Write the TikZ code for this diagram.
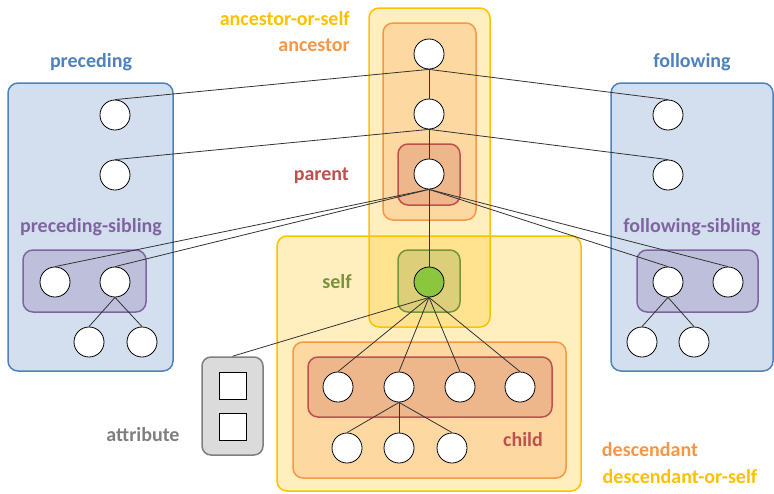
\documentclass[tikz,border=0pt]{standalone}
\usepackage{fontspec}
\setmainfont{Carlito}
\usepackage{tikz}

\definecolor{axyellow}{HTML}{FFC000}
\definecolor{axorange}{HTML}{F79646}
\definecolor{axred}{HTML}{C0504D}
\definecolor{axgreen}{HTML}{77933C}
\definecolor{axself}{HTML}{8CC63F}
\definecolor{axblue}{HTML}{4F81BD}
\definecolor{axpurple}{HTML}{8064A2}
\definecolor{axgray}{HTML}{7F7F7F}

\tikzset{
	zone/.style={draw=#1, line width=1.5pt, fill=#1, fill opacity=0.25, draw opacity=1, rounded corners=10pt},
	nd/.style={circle, draw=black, fill=white, minimum size=30pt, inner sep=0pt, line width=0.8pt},
	sq/.style={draw=black, fill=white, minimum size=27pt, inner sep=0pt, line width=0.8pt},
	lbl/.style={font=\fontsize{20}{24}\selectfont\bfseries, text=#1, inner sep=0pt},
	link/.style={draw=black!80, line width=0.8pt},
}

\begin{document}
\begin{tikzpicture}[x=1pt,y=-1pt]
	\useasboundingbox (0,0) rectangle (774,493);
	%zones
	\draw[zone=axblue]   (8,83) rectangle (173,371);		%preceding
	\draw[zone=axpurple] (23,250) rectangle (146,312);
	\draw[zone=axblue]   (611,83) rectangle (773,371);		%following
	\draw[zone=axpurple] (637,250) rectangle (758,312);
	\draw[zone=axyellow] (277,236) rectangle (581,491);	%descendant-or-self
	\draw[zone=axorange] (293,342) rectangle (566,478);	%descendant
	\draw[zone=axred]    (308,357) rectangle (552,417);	%child
	\draw[zone=axyellow] (369,8) rectangle (490,327);		%ancestor-or-self
	\draw[zone=axorange] (383,23) rectangle (476,220);		%ancestor
	\draw[zone=axred]    (398,144) rectangle (460,205);	%parent
	\draw[zone=axgreen]  (398,250) rectangle (460,312);	%self
	\node[draw=axgray, fill=gray!28, rounded corners=9pt, line width=1.5pt,
		minimum width=61pt, minimum height=98pt] (attr) at (232.5,406) {};

	%labels
	\node[lbl=axyellow, anchor=east] (tanself) at (350,19) {ancestor-or-self};
	\node[lbl=axorange, anchor=east] (tanc) at (350,45) {ancestor};
	\node[lbl=axred, anchor=east] (tpar) at (349,176) {parent};
	\node[lbl=axgreen] (tself) at (337,282) {self};
	\node[lbl=axblue] (tpre) at (91,62) {preceding};
	\node[lbl=axpurple] (tpsib) at (91,227) {preceding-sibling};
	\node[lbl=axblue] (tfol) at (692,62) {following};
	\node[lbl=axpurple] (tfsib) at (692,227) {following-sibling};
	\node[lbl=axgray] (tattr) at (143,435) {attribute};
	\node[lbl=axred] (tchild) at (523,440) {child};
	\node[lbl=axorange] (tdesc) at (650,450) {descendant};
	\node[lbl=axyellow] (tdself) at (680,477) {descendant-or-self};

	%tree nodes
	\node[nd] (a1) at (429,54) {};
	\node[nd] (a2) at (429,114) {};
	\node[nd] (par) at (429,174) {};
	\node[nd, fill=axself] (self) at (429,282) {};
	\node[nd] (pre1) at (115,115) {};
	\node[nd] (pre2) at (115,175) {};
	\node[nd] (ps1) at (55,282) {};
	\node[nd] (ps2) at (115,282) {};
	\node[nd] (psc1) at (89,342) {};
	\node[nd] (psc2) at (142,342) {};
	\node[nd] (fol1) at (668,115) {};
	\node[nd] (fol2) at (668,175) {};
	\node[nd] (fs1) at (668,282) {};
	\node[nd] (fs2) at (728,282) {};
	\node[nd] (fsc1) at (642,342) {};
	\node[nd] (fsc2) at (694,342) {};
	\node[nd] (c1) at (338,387) {};
	\node[nd] (c2) at (399,387) {};
	\node[nd] (c3) at (460,387) {};
	\node[nd] (c4) at (520,387) {};
	\node[nd] (g1) at (347,448) {};
	\node[nd] (g2) at (399,448) {};
	\node[nd] (g3) at (452,448) {};
	\node[sq] (at1) at (233,386) {};
	\node[sq] (at2) at (233,427) {};

	%connectors
	\draw[link] (a1) -- (a2) -- (par) -- (self);
	\draw[link] (pre1.north) -- (a1.south) -- (fol1.north);
	\draw[link] (pre2.north) -- (a2.south) -- (fol2.north);
	\foreach \n in {ps1,ps2,fs1,fs2}
		\draw[link] (par.south) -- (\n.north);
	\foreach \n in {c1,c2,c3,c4,attr}
		\draw[link] (self.south) -- (\n.north);
	\foreach \n in {g1,g2,g3}
		\draw[link] (c2.south) -- (\n.north);
	\draw[link] (psc1.north) -- (ps2.south) -- (psc2.north);
	\draw[link] (fsc1.north) -- (fs1.south) -- (fsc2.north);
\end{tikzpicture}
\end{document}
